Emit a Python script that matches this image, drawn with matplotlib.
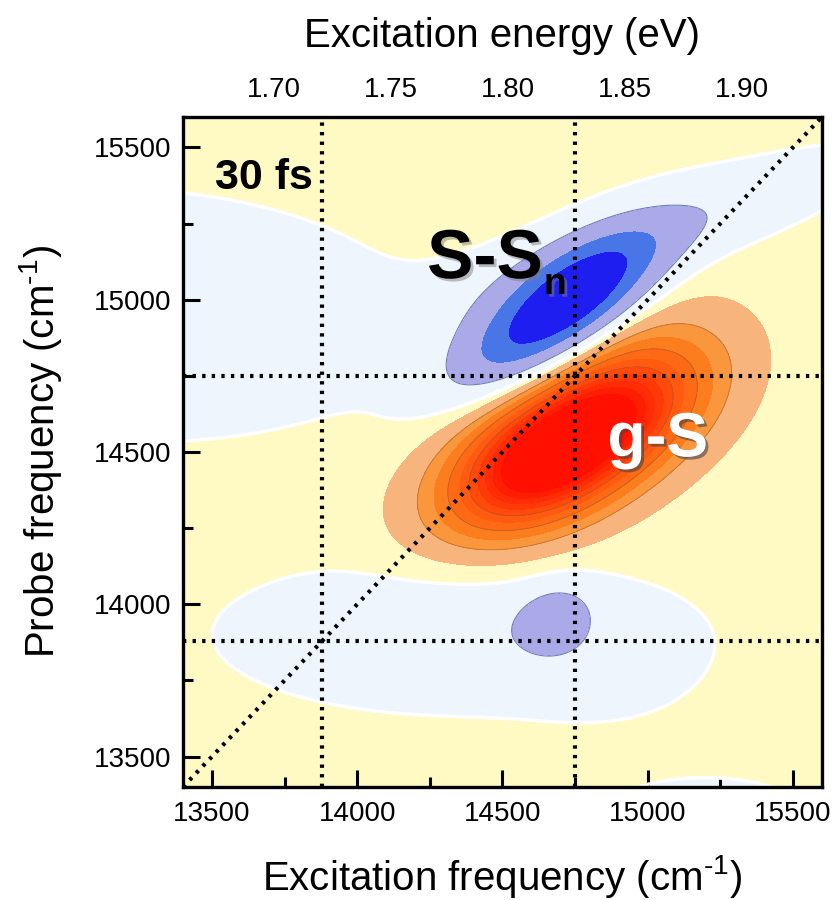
import numpy as np
import matplotlib.pyplot as plt
import matplotlib.patheffects as pe
from matplotlib.ticker import MultipleLocator, FixedLocator, FormatStrFormatter

plt.rcParams['font.family'] = ['Liberation Sans', 'DejaVu Sans']
plt.rcParams['mathtext.fontset'] = 'custom'
plt.rcParams['mathtext.rm'] = 'Liberation Sans'
plt.rcParams['mathtext.it'] = 'Liberation Sans:italic'
plt.rcParams['mathtext.bf'] = 'Liberation Sans:bold'

# spectral window in wavenumbers
freq_min, freq_max = 13400.0, 15600.0
CM_PER_EV = 8065.54

# 2D response built from tilted gaussian features:
# centre (excitation, probe), width along / across the tilt, tilt angle, amplitude
peak_exc    = [14650, 14960, 14680, 14800, 14980, 13200, 14350, 14850, 14684, 15200]
peak_probe  = [14480, 14680, 14955, 15050, 15205, 14950, 13900, 13760, 13955, 13330]
peak_wide   = [270,   250,   260,   180,   520,   600,   510,   200,   90,    190]
peak_narrow = [145,   155,   98,    90,    90,    241,   160,   110,   72,    60]
peak_tilt   = [27,    27,    33,    33,    18,    -2,    0,     0,     20,    0]
peak_amp    = [1.0,   0.45,  -0.9,  -0.2,  -0.21, -0.22, -0.2,  -0.06, -0.28, -0.2]
baseline = 0.05

# pump/probe reference lines
ref_exc   = [13880, 14750]
ref_probe = [13880, 14750]

# energy ticks (eV)
ev_major = [1.70, 1.75, 1.80, 1.85, 1.90]
ev_minor = [1.675, 1.725, 1.775, 1.825, 1.875, 1.925]

# contour levels and fill colours (blue = negative, yellow/orange/red = positive)
levels = [-10, -0.7, -0.45, -0.2, 0.0, 0.12, 0.25, 0.35, 0.45, 0.55, 0.63, 0.71, 0.78, 0.85, 0.92, 10]
fill_colors = ["#1e1ef0", "#4876e6", "#aaaae8", "#eef5fd",
               "#fff9c4", "#f8b47d", "#fa963c", "#fc7d1e", "#fd6914", "#fe5a10",
               "#ff4a0c", "#ff3a08", "#ff2c05", "#ff1e02", "#ff1000"]

exc = np.linspace(freq_min, freq_max, 500)
probe = np.linspace(freq_min, freq_max, 500)
X, Y = np.meshgrid(exc, probe)
Z = np.full_like(X, baseline)
for x0, y0, sa, sb, th, a in zip(peak_exc, peak_probe, peak_wide, peak_narrow, peak_tilt, peak_amp):
    t = np.deg2rad(th)
    u = (X - x0) * np.cos(t) + (Y - y0) * np.sin(t)
    v = -(X - x0) * np.sin(t) + (Y - y0) * np.cos(t)
    Z += a * np.exp(-0.5 * (u / sa) ** 2 - 0.5 * (v / sb) ** 2)

fig = plt.figure(figsize=(8.37, 9.0), dpi=100)
ax = fig.add_axes([0.2186, 0.1256, 0.7634, 0.7444])

ax.contourf(X, Y, Z, levels=levels, colors=fill_colors)
ax.contour(X, Y, Z, levels=[0.0], colors="white", linewidths=2.5, linestyles="solid")
ax.contour(X, Y, Z, levels=[-0.2], colors="#6f7fb8", linewidths=0.8, linestyles="solid")
ax.contour(X, Y, Z, levels=[0.25, 0.45, 0.63], colors="#9a5a30", linewidths=0.6, alpha=0.6)

dots = dict(color="black", lw=3.0, ls=(0, (0.8, 1.5)))
for xv in ref_exc:
    ax.axvline(xv, **dots)
for yv in ref_probe:
    ax.axhline(yv, **dots)
ax.plot([freq_min, freq_max], [freq_min, freq_max], **dots)

ax.set_xlim(freq_min, freq_max)
ax.set_ylim(freq_min, freq_max)

ax.xaxis.set_major_locator(MultipleLocator(500))
ax.xaxis.set_minor_locator(MultipleLocator(250))
ax.yaxis.set_major_locator(MultipleLocator(500))
ax.yaxis.set_minor_locator(MultipleLocator(250))
ax.tick_params(which="both", direction="in", width=2.2, top=False, right=False, labelsize=20)
ax.tick_params(which="major", length=12)
ax.tick_params(which="minor", length=7)
ax.tick_params(axis="x", pad=10)
ax.tick_params(axis="y", pad=8)
for s in ax.spines.values():
    s.set_linewidth(2.4)

ax.set_xlabel(r"Excitation frequency (cm$^{\text{-}1}$)", fontsize=29)
ax.xaxis.set_label_coords(0.5, -0.098)
ax.set_ylabel(r"Probe frequency (cm$^{\text{-}1}$)", fontsize=29, labelpad=22)

top = ax.secondary_xaxis("top", functions=(lambda x: x / CM_PER_EV, lambda e: e * CM_PER_EV))
top.xaxis.set_major_locator(FixedLocator(ev_major))
top.xaxis.set_minor_locator(FixedLocator(ev_minor))
top.xaxis.set_major_formatter(FormatStrFormatter("%.2f"))
top.tick_params(which="both", direction="in", width=2.2, labelsize=20, pad=10)
top.tick_params(which="major", length=12)
top.tick_params(which="minor", length=7)
top.set_xlabel("Excitation energy (eV)", fontsize=29, labelpad=22)

right = ax.secondary_yaxis("right", functions=(lambda y: y / CM_PER_EV, lambda e: e * CM_PER_EV))
right.yaxis.set_major_locator(FixedLocator(ev_major))
right.yaxis.set_minor_locator(FixedLocator(ev_minor))
right.tick_params(which="both", direction="in", width=2.2, labelright=False)
right.tick_params(which="major", length=12)
right.tick_params(which="minor", length=7)

ax.text(13679, 15400, "30 fs", fontsize=31, fontweight="bold", ha="center", va="center")

shadow_dark = [pe.withSimplePatchShadow(offset=(2, -2), shadow_rgbFace="gray", alpha=0.5)]
ax.text(14440, 15130, "S-S", fontsize=50, fontweight="bold", ha="center", va="center",
        path_effects=shadow_dark)
ax.text(14682, 15052, "n", fontsize=27, fontweight="bold", ha="center", va="center",
        path_effects=shadow_dark)
ax.text(15035, 14540, "g-S", fontsize=45, fontweight="bold", color="white", ha="center", va="center",
        path_effects=[pe.withSimplePatchShadow(offset=(2, -2), shadow_rgbFace="#444444", alpha=0.6)])

fig.savefig("out.png", dpi=100)
